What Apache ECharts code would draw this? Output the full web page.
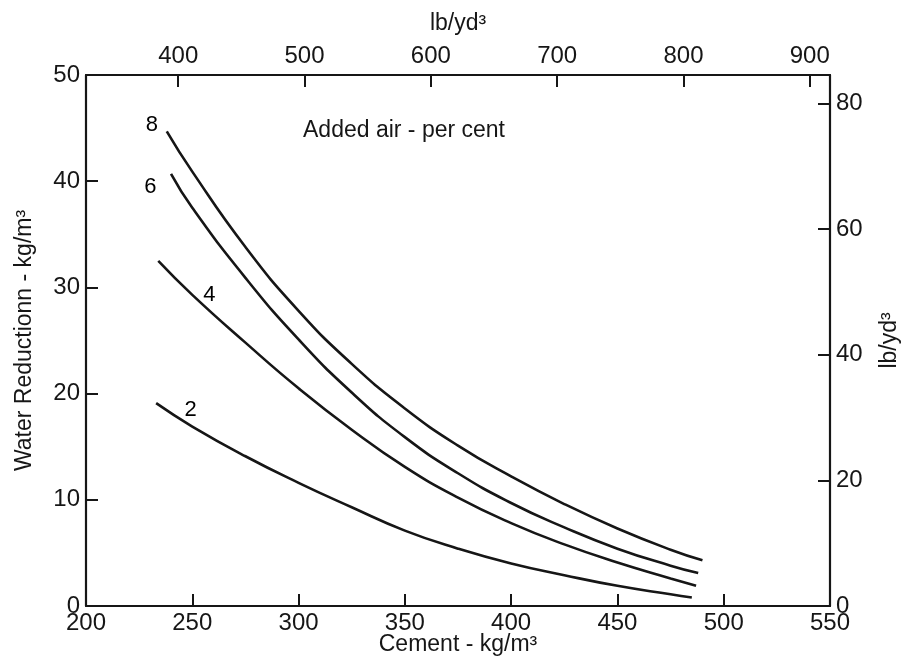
<!DOCTYPE html>
<html>
<head>
<meta charset="utf-8">
<script src="https://cdn.jsdelivr.net/npm/echarts@6/dist/echarts.min.js"></script>
<style>
  html, body { margin: 0; background: #fff; }
  #chart { width: 904px; height: 660px; }
</style>
</head>
<body>
<div id="chart"></div>
<script>
  // cement kg/m3 -> water reduction kg/m3, one curve per added air %
  var air8 = [[238, 44.7], [250, 40.9], [275, 33.8], [300, 27.8], [325, 22.8], [350, 18.6], [375, 15.1], [400, 12.2], [425, 9.6], [450, 7.3], [475, 5.3], [490, 4.3]];
  var air6 = [[240, 40.7], [250, 37.5], [275, 30.9], [300, 25.1], [325, 20.1], [350, 15.9], [375, 12.5], [400, 9.7], [425, 7.4], [450, 5.4], [475, 3.8], [488, 3.1]];
  var air4 = [[234, 32.5], [250, 29.3], [275, 24.8], [300, 20.5], [325, 16.6], [350, 13.1], [375, 10.2], [400, 7.8], [425, 5.8], [450, 4.1], [475, 2.6], [487, 1.9]];
  var air2 = [[233, 19.1], [250, 16.9], [275, 14.1], [300, 11.6], [325, 9.3], [350, 7.1], [375, 5.4], [400, 4.0], [425, 2.9], [450, 1.9], [475, 1.1], [485, 0.8]];

  // curve labels (air per cent) placed next to each curve
  var curveLabels = [
    {name: '8', value: [231, 45.3]},
    {name: '6', value: [230.3, 39.5]},
    {name: '4', value: [258, 29.3]},
    {name: '2', value: [249.2, 18.5]}
  ];

  var topTicks = [400, 500, 600, 700, 800, 900];   // lb/yd3
  var rightTicks = [0, 20, 40, 60, 80];            // lb/yd3

  var font = "'Liberation Sans', Arial, Helvetica, sans-serif";
  var ink = '#161616';

  var chart = echarts.init(document.getElementById('chart'));

  function lineSeries(data) {
    return {
      type: 'line',
      xAxisIndex: 0,
      yAxisIndex: 0,
      data: data,
      smooth: true,
      showSymbol: false,
      symbol: 'none',
      lineStyle: {color: ink, width: 2.6},
      silent: true
    };
  }

  function tick(custom) {
    var t = {inside: true, length: 12, lineStyle: {color: ink, width: 2}};
    if (custom) t.customValues = custom;
    return t;
  }

  function label(margin, custom) {
    var l = {color: ink, fontSize: 24, fontFamily: font, margin: margin};
    if (custom) l.customValues = custom;
    return l;
  }

  var axisLine = {onZero: false, lineStyle: {color: ink, width: 2.2}};
  var nameStyle = {color: ink, fontSize: 23, fontFamily: font};

  chart.setOption({
    animation: false,
    backgroundColor: '#fff',
    title: {
      text: 'Added air - per cent',
      left: 298,
      top: 114,
      textStyle: {color: ink, fontSize: 23, fontWeight: 'normal', fontFamily: font}
    },
    grid: {left: 86, right: 74, top: 75, bottom: 54, outerBoundsMode: 'none'},
    xAxis: [
      {
        type: 'value',
        position: 'bottom',
        min: 200,
        max: 550,
        interval: 50,
        name: 'Cement - kg/m³',
        nameLocation: 'middle',
        nameGap: 27,
        nameMoveOverlap: false,
        nameTextStyle: nameStyle,
        axisLine: axisLine,
        axisTick: tick(),
        axisLabel: label(5),
        splitLine: {show: false}
      },
      {
        type: 'value',
        position: 'top',
        min: 327,
        max: 916,
        name: 'lb/yd³',
        nameLocation: 'middle',
        nameGap: 40,
        nameTextStyle: nameStyle,
        axisLine: axisLine,
        axisTick: tick(topTicks),
        axisLabel: label(7, topTicks),
        splitLine: {show: false}
      }
    ],
    yAxis: [
      {
        type: 'value',
        position: 'left',
        min: 0,
        max: 50,
        interval: 10,
        name: 'Water Reductionn - kg/m³',
        nameLocation: 'middle',
        nameGap: 50,
        nameTextStyle: nameStyle,
        axisLine: axisLine,
        axisTick: tick(),
        axisLabel: label(6),
        splitLine: {show: false}
      },
      {
        type: 'value',
        position: 'right',
        min: 0,
        max: 84.5,
        name: 'lb/yd³',
        nameLocation: 'middle',
        nameGap: 48,
        nameTextStyle: nameStyle,
        axisLine: axisLine,
        axisTick: tick(rightTicks),
        axisLabel: label(6, rightTicks),
        splitLine: {show: false}
      }
    ],
    series: [
      lineSeries(air8),
      lineSeries(air6),
      lineSeries(air4),
      lineSeries(air2),
      {
        type: 'scatter',
        xAxisIndex: 0,
        yAxisIndex: 0,
        data: curveLabels,
        symbolSize: 0,
        silent: true,
        itemStyle: {opacity: 1, color: '#000'},
        label: {
          show: true,
          position: 'inside',
          formatter: '{b}',
          color: '#000',
          opacity: 1,
          fontSize: 22,
          fontFamily: font
        }
      }
    ]
  });
</script>
</body>
</html>
